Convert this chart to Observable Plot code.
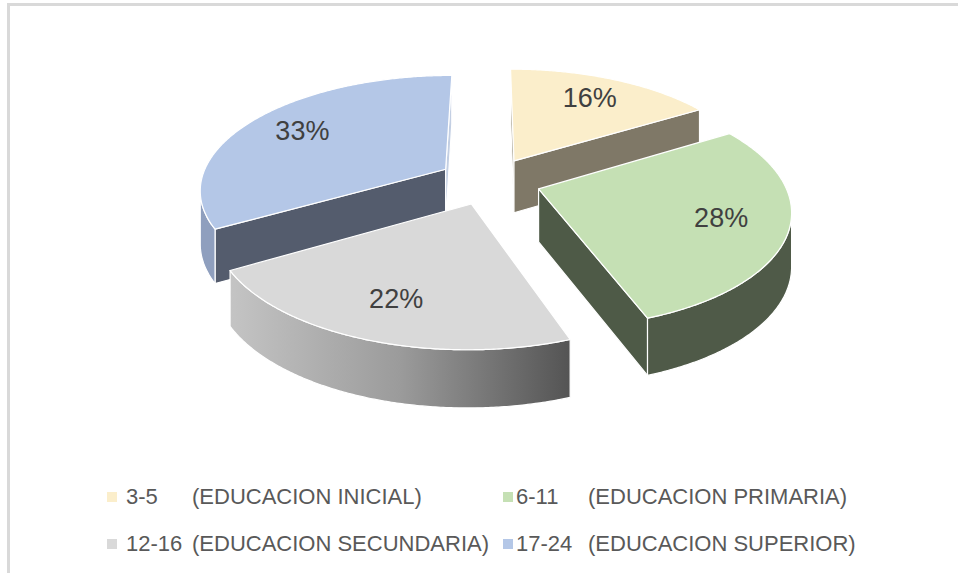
<!DOCTYPE html>
<html>
<head>
<meta charset="utf-8">
<script src="https://cdn.jsdelivr.net/npm/d3@7"></script>
<script src="https://cdn.jsdelivr.net/npm/@observablehq/plot@0.6"></script>
<style>
  html, body { margin: 0; padding: 0; background: #ffffff; }
  #wrap { position: relative; width: 958px; height: 573px; overflow: hidden; background: #ffffff; }
  #frame { position: absolute; left: 7px; top: 3px; width: 1400px; height: 900px;
           border-top: 3px solid #d9d9d9; border-left: 3px solid #d9d9d9; box-sizing: border-box; }
  #chart { position: absolute; left: 0; top: 0; }
  .lg { position: absolute; font-family: "Liberation Sans", Arial, sans-serif; font-size: 22px;
        line-height: 22px; color: #595959; white-space: pre; }
  .sw { position: absolute; width: 10px; height: 10px; }
</style>
</head>
<body>
<div id="wrap">
  <div id="frame"></div>
  <div id="chart"></div>
  <div id="legend"></div>
</div>
<script>
// ---- data ----
const ageRanges = ["3-5", "6-11", "12-16", "17-24"];
const levels = ["EDUCACION INICIAL", "EDUCACION PRIMARIA", "EDUCACION SECUNDARIA", "EDUCACION SUPERIOR"];
const shares = [16.3, 28.2, 22.1, 33.4];

// ---- palette ----
const topColors   = ["#fbeecb", "#c5e0b4", "#d9d9d9", "#b4c7e7"];
const startColors = ["#9c9684", "#4e5a47", "#a6a6a6", "#545c6d"];
const endColors   = ["#7f7867", "#4e5a47", "#8c8c8c", "#c3cfe3"];
const wallColors  = ["#7f7867", "#4f5a48", "url(#grayWall)", "#8f9fbe"];

// ---- 3D projection (perspective view of an exploded pie) ----
const W = 958, H = 450;
const CX = 489, CY = 180.4, KX = 245, KY = 113, PERSP = 0.166, KZ = 52.7, PZ = 0.079, EXPLODE = 0.21;
function project(X, Y, Z) {
  const den = 1 + PERSP * Y;
  return [CX + KX * X / den, CY - KY * Y / den - Z * KZ / (1 + PZ * Y)];
}
const total = d3.sum(shares);
let cum = 0;
const slices = shares.map((v, i) => {
  const a0 = cum / total * 2 * Math.PI; cum += v;
  const a1 = cum / total * 2 * Math.PI;
  const mid = (a0 + a1) / 2;
  return {i, a0, a1, mid, ox: EXPLODE * Math.sin(mid), oy: EXPLODE * Math.cos(mid)};
});
function pt(s, a, r, z) { return project(s.ox + r * Math.sin(a), s.oy + r * Math.cos(a), z); }
function area(p) {
  let A = 0;
  for (let k = 0; k < p.length; k++) {
    const [x1, y1] = p[k], [x2, y2] = p[(k + 1) % p.length];
    A += x1 * y2 - x2 * y1;
  }
  return A / 2;
}

const faces = [];
const drawOrder = [...slices].sort((a, b) => b.oy - a.oy);
for (const s of drawOrder) {
  const n = Math.max(8, Math.ceil((s.a1 - s.a0) / (Math.PI / 360)));
  const angs = d3.range(n + 1).map(j => s.a0 + (s.a1 - s.a0) * j / n);
  const at = pt(s, 0, 0, 0), ab = pt(s, 0, 0, -1);
  const sf = [at, ab, pt(s, s.a0, 1, -1), pt(s, s.a0, 1, 0)];
  if (area(sf) > 0) faces.push({pts: sf, fill: startColors[s.i]});
  const ef = [at, pt(s, s.a1, 1, 0), pt(s, s.a1, 1, -1), ab];
  if (area(ef) > 0) faces.push({pts: ef, fill: endColors[s.i]});
  let run = null; const runs = [];
  for (let j = 0; j < n; j++) {
    const q = [pt(s, angs[j + 1], 1, 0), pt(s, angs[j], 1, 0), pt(s, angs[j], 1, -1), pt(s, angs[j + 1], 1, -1)];
    if (area(q) > 0) { if (!run) { run = [j, j]; runs.push(run); } else run[1] = j; }
    else run = null;
  }
  for (const [j0, j1] of runs) {
    const seg = angs.slice(j0, j1 + 2);
    const topArc = seg.map(a => pt(s, a, 1, 0));
    const botArc = seg.map(a => pt(s, a, 1, -1)).reverse();
    faces.push({pts: [...topArc, ...botArc], fill: wallColors[s.i]});
  }
  faces.push({pts: [at, ...angs.map(a => pt(s, a, 1, 0))], fill: topColors[s.i]});
}

const labelData = slices.map(s => {
  const [x, y] = pt(s, s.mid, 0.74, 0);
  return {x, y, text: Math.round(shares[s.i] / total * 100) + "%"};
});

const svg = Plot.plot({
  width: W, height: H, margin: 0,
  style: {background: "transparent"},
  x: {type: "linear", domain: [0, W], range: [0, W], axis: null},
  y: {type: "linear", domain: [0, H], range: [0, H], axis: null},
  marks: [
    ...faces.map(f => Plot.line(f.pts, {
      x: d => d[0], y: d => d[1], fill: f.fill, stroke: "#ffffff",
      strokeWidth: 1.2, strokeLinejoin: "round", curve: "linear-closed"
    })),
    Plot.text(labelData, {x: "x", y: "y", text: "text", fontSize: 27, fill: "#404040",
      fontFamily: "'Liberation Sans', Arial, sans-serif"})
  ]
});
const defs = d3.select(svg).insert("defs", ":first-child");
const g = defs.append("linearGradient").attr("id", "grayWall")
  .attr("x1", 0).attr("x2", 1).attr("y1", 0).attr("y2", 0);
g.append("stop").attr("offset", 0).attr("stop-color", "#c4c4c4");
g.append("stop").attr("offset", 0.5).attr("stop-color", "#9b9b9b");
g.append("stop").attr("offset", 1).attr("stop-color", "#545454");
document.getElementById("chart").appendChild(svg);

// ---- legend ----
const legend = document.getElementById("legend");
const colX = [[107, 126, 192], [503, 516, 588]];
const rowY = [496.5, 543.5];
ageRanges.forEach((r, i) => {
  const [sx, rx, dx] = colX[i % 2];
  const cy = rowY[Math.floor(i / 2)];
  const sw = document.createElement("div");
  sw.className = "sw"; sw.style.left = sx + "px"; sw.style.top = (cy - 5) + "px";
  sw.style.background = topColors[i];
  legend.appendChild(sw);
  const t1 = document.createElement("div");
  t1.className = "lg"; t1.style.left = rx + "px"; t1.style.top = (cy - 10.7) + "px";
  t1.textContent = r;
  legend.appendChild(t1);
  const t2 = document.createElement("div");
  t2.className = "lg"; t2.style.left = dx + "px"; t2.style.top = (cy - 10.7) + "px";
  t2.textContent = "(" + levels[i] + ")";
  legend.appendChild(t2);
});
</script>
</body>
</html>
